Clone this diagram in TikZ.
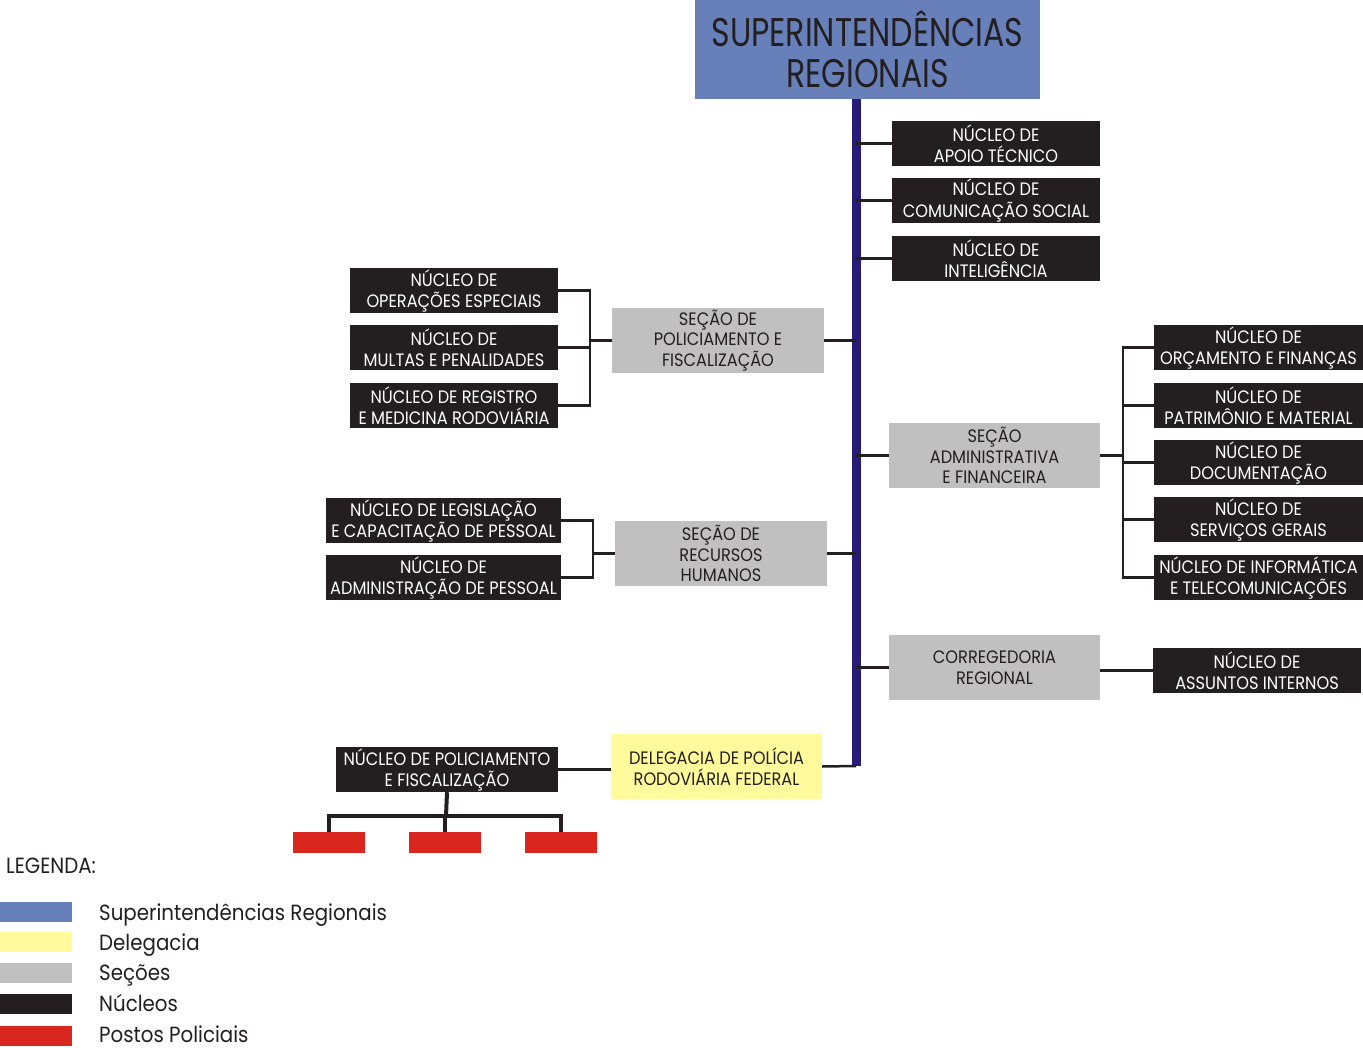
\documentclass[tikz,border=0pt]{standalone}
\usepackage{fontspec}
\newfontfamily\boxfont[FakeStretch=0.9]{Poppins}
\newfontfamily\titlefont[FakeStretch=0.79]{Poppins}
\newfontfamily\legfont[FakeStretch=0.9]{Poppins}
\definecolor{supblue}{RGB}{104,128,186}
\definecolor{barnavy}{RGB}{40,28,120}
\definecolor{secgray}{RGB}{192,192,192}
\definecolor{nucblack}{RGB}{35,31,32}
\definecolor{delyellow}{RGB}{255,250,155}
\definecolor{postred}{RGB}{217,38,30}
\tikzset{
  nuc/.style={fill=nucblack, text=white, inner sep=0pt, minimum height=45pt, align=center,
    font=\boxfont\fontsize{18}{21}\selectfont},
  sec/.style={fill=secgray, text=nucblack, inner sep=0pt, minimum height=65pt, minimum width=211pt, align=center,
    font=\boxfont\fontsize{18}{20.5}\selectfont},
  del/.style={fill=delyellow, text=nucblack, inner sep=0pt, minimum height=65pt, minimum width=211pt, align=center,
    font=\boxfont\fontsize{18}{21}\selectfont},
  post/.style={fill=postred, inner sep=0pt, minimum width=72pt, minimum height=21pt},
  swatch/.style={inner sep=0pt, minimum width=72pt, minimum height=20pt},
  legtext/.style={anchor=base west, inner sep=0pt, text=nucblack, font=\legfont\fontsize{22}{24}\selectfont},
  conn/.style={draw=nucblack, line width=2.5pt},
  connthick/.style={draw=nucblack, line width=4pt},
  barline/.style={draw=barnavy, line width=9pt}
}
\begin{document}
\begin{tikzpicture}[x=1pt,y=-1pt]
\useasboundingbox (0,0) rectangle (1363,1048);
% top
\node[fill=supblue, text=nucblack, inner sep=0pt, minimum width=345pt, minimum height=99pt, align=center,
  font=\titlefont\fontsize{40}{41}\selectfont] (sup) at (867.5,49.5) {SUPERINTENDÊNCIAS\\REGIONAIS};
\coordinate (bartop) at (856,99);
\coordinate (barbot) at (856,766);
\draw[barline] (bartop) -- (barbot);
% right top nucleos
\node[nuc, minimum width=208pt] (apoio) at (996,143.5) {NÚCLEO DE\\APOIO TÉCNICO};
\node[nuc, minimum width=208pt] (comun) at (996,200.5) {NÚCLEO DE\\COMUNICAÇÃO SOCIAL};
\node[nuc, minimum width=208pt] (intel) at (996,258.5) {NÚCLEO DE\\INTELIGÊNCIA};
\draw[conn] (apoio.west) -- (apoio.west -| bartop);
\draw[conn] (comun.west) -- (comun.west -| bartop);
\draw[conn] (intel.west) -- (intel.west -| bartop);
% secao policiamento
\node[sec, minimum width=212pt] (spf) at (718,340.5) {SEÇÃO DE\\POLICIAMENTO E\\FISCALIZAÇÃO};
\draw[conn] (spf.east) -- (spf.east -| bartop);
\node[nuc, minimum width=208pt] (opesp) at (454,290.5) {NÚCLEO DE\\OPERAÇÕES ESPECIAIS};
\node[nuc, minimum width=208pt] (multas) at (454,347.5) {NÚCLEO DE\\MULTAS E PENALIDADES};
\node[nuc, minimum width=208pt] (regist) at (454,405.5) {NÚCLEO DE REGISTRO\\E MEDICINA RODOVIÁRIA};
\coordinate (j1) at (590,343);
\draw[conn] (opesp.east) -| (j1) |- (regist.east);
\draw[conn] (multas.east) -- (multas.east -| j1);
\draw[conn] (spf.west) -- (spf.west -| j1);
% secao recursos humanos
\node[sec, minimum width=212pt] (srh) at (721,553.5) {SEÇÃO DE\\RECURSOS\\HUMANOS};
\draw[conn] (srh.east) -- (srh.east -| bartop);
\node[nuc, minimum width=235pt] (legis) at (443.5,520.5) {NÚCLEO DE LEGISLAÇÃO\\E CAPACITAÇÃO DE PESSOAL};
\node[nuc, minimum width=235pt] (admp) at (443.5,577.5) {NÚCLEO DE\\ADMINISTRAÇÃO DE PESSOAL};
\coordinate (j2) at (593,553);
\draw[conn] (legis.east) -| (j2) |- (admp.east);
\draw[conn] (srh.west) -- (srh.west -| j2);
% secao administrativa
\node[sec] (saf) at (994.5,455.5) {SEÇÃO\\ADMINISTRATIVA\\E FINANCEIRA};
\draw[conn] (saf.west) -- (saf.west -| bartop);
\node[nuc, minimum width=209pt] (orc) at (1258.5,347.5) {NÚCLEO DE\\ORÇAMENTO E FINANÇAS};
\node[nuc, minimum width=209pt] (patr) at (1258.5,405.5) {NÚCLEO DE\\PATRIMÔNIO E MATERIAL};
\node[nuc, minimum width=209pt] (docu) at (1258.5,462.5) {NÚCLEO DE\\DOCUMENTAÇÃO};
\node[nuc, minimum width=209pt] (serv) at (1258.5,519.5) {NÚCLEO DE\\SERVIÇOS GERAIS};
\node[nuc, minimum width=209pt] (info) at (1258.5,577.5) {NÚCLEO DE INFORMÁTICA\\E TELECOMUNICAÇÕES};
\coordinate (j3) at (1123,458);
\draw[conn] (orc.west) -| (j3) |- (info.west);
\draw[conn] (patr.west) -- (patr.west -| j3);
\draw[conn] (docu.west) -- (docu.west -| j3);
\draw[conn] (serv.west) -- (serv.west -| j3);
\draw[conn] (saf.east) -- (saf.east -| j3);
% corregedoria
\node[sec] (corr) at (994.5,667.5) {CORREGEDORIA\\REGIONAL};
\draw[conn] (corr.west) -- (corr.west -| bartop);
\node[nuc, minimum width=208pt] (assu) at (1257,670.5) {NÚCLEO DE\\ASSUNTOS INTERNOS};
\draw[conn] (assu.west) -- (assu.west -| corr.east);
% delegacia
\node[del] (dele) at (716.5,766.5) {DELEGACIA DE POLÍCIA\\RODOVIÁRIA FEDERAL};
\draw[conn] (dele.east) -- (barbot);
\node[nuc, minimum width=222pt] (npf) at (447,769.5) {NÚCLEO DE POLICIAMENTO\\E FISCALIZAÇÃO};
\draw[conn] (npf.east) -- (npf.east -| dele.west);
% postos
\node[post] (p1) at (329,842.5) {};
\node[post] (p2) at (445,842.5) {};
\node[post] (p3) at (561,842.5) {};
\coordinate (rj) at (446,816);
\draw[connthick] (npf.south) -- (rj);
\draw[connthick] (p1.north) |- (rj) -| (p3.north);
\draw[connthick] (p2.north) -- (p2.north |- rj);
% legend
\node[anchor=base west, inner sep=0pt, text=nucblack, font=\legfont\fontsize{22}{24}\selectfont] (legt) at (6,873) {LEGENDA:};
\node[swatch, fill=supblue] (s1) at (36,912) {};
\node[swatch, fill=delyellow] (s2) at (36,942) {};
\node[swatch, fill=secgray] (s3) at (36,973) {};
\node[swatch, fill=nucblack] (s4) at (36,1004) {};
\node[swatch, fill=postred] (s5) at (36,1036) {};
\node[legtext] (l1) at (99,920.5) {Superintendências Regionais};
\node[legtext] (l2) at (99,950) {Delegacia};
\node[legtext] (l3) at (99,980.5) {Seções};
\node[legtext] (l4) at (99,1011.5) {Núcleos};
\node[legtext] (l5) at (99,1042.5) {Postos Policiais};
\end{tikzpicture}
\end{document}
